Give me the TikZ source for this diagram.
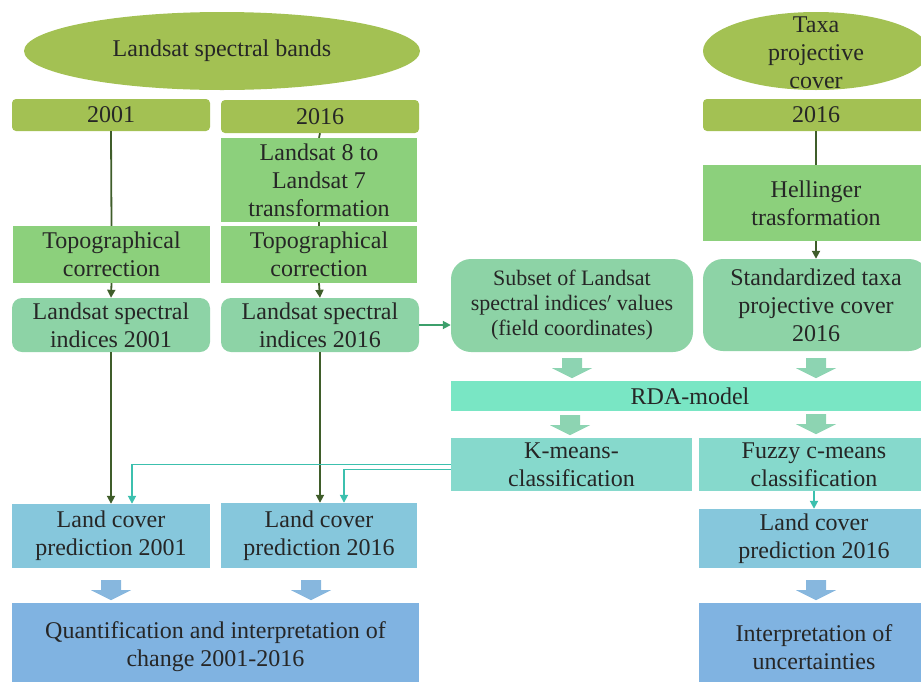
\documentclass[tikz,border=0pt]{standalone}
\usepackage{fontspec}
\setmainfont{Liberation Serif}
\usetikzlibrary{shapes.geometric,arrows.meta}

\definecolor{bandolive}{HTML}{A3C153}
\definecolor{stepgreen}{HTML}{8CD07C}
\definecolor{indexgreen}{HTML}{8DD3A6}
\definecolor{fatgreen}{HTML}{8DD4B2}
\definecolor{rdamint}{HTML}{79E6C4}
\definecolor{classteal}{HTML}{86D9CC}
\definecolor{coverblue}{HTML}{86C7DC}
\definecolor{fatblue}{HTML}{87B7DE}
\definecolor{resultblue}{HTML}{80B3E1}
\definecolor{linedark}{HTML}{3F5D2A}
\definecolor{linecyan}{HTML}{3CC0AE}
\definecolor{linegreen}{HTML}{3C9F6B}
\definecolor{textdark}{HTML}{262626}

% thick downward block arrow below a node: colour, anchor, x offset, gap
\newcommand{\fatarrow}[4]{%
  \fill[#1] ([xshift=#3-10pt,yshift=-#4]#2) -- ++(20,0) -- ++(0,10) -- ++(10,0)
    -- ++(-20,10) -- ++(-20,-10) -- ++(10,0) -- cycle;}

\begin{document}
\begin{tikzpicture}[x=1pt, y=-1pt,
    box/.style={rectangle, inner sep=0pt, align=center, text=textdark,
      font=\fontsize{24}{28}\selectfont},
    bandellipse/.style={ellipse, inner sep=0pt, fill=bandolive,
      minimum height=78pt},
    yearbox/.style={box, fill=bandolive, rounded corners=4pt, minimum height=32pt},
    stepbox/.style={box, fill=stepgreen},
    indexbox/.style={box, fill=indexgreen, rounded corners=10pt},
    classbox/.style={box, fill=classteal, minimum height=53pt},
    coverbox/.style={box, fill=coverblue},
    resultbox/.style={box, fill=resultblue, minimum height=88pt},
    darkline/.style={linedark, line width=1.8pt},
    cyanline/.style={linecyan, line width=1.8pt},
    >={Triangle[length=8pt,width=8pt]}]
    \useasboundingbox (0,0) rectangle (921,681);

    % Sources
    \node[box, bandellipse, minimum width=396pt] (bands) at (222,51)
      {Landsat spectral bands};
    \node[bandellipse, minimum width=226pt] (taxa) at (816,51) {};
    \node[box] (taxatext) at (816,53) {Taxa\\projective\\cover};

    % Years
    \node[yearbox, minimum width=198pt] (y2001) at (111,115) {2001};
    \node[yearbox, minimum width=198pt, minimum height=33pt] (y2016) at (320,116.5) {2016};
    \node[yearbox, minimum width=226pt] (t2016) at (816,115) {2016};

    % Preprocessing
    \node[stepbox, minimum width=196pt, minimum height=84pt] (trans) at (319,180)
      {Landsat 8 to\\Landsat 7\\transformation};
    \node[stepbox, minimum width=197pt, minimum height=57pt] (topo1) at (111.5,254.5)
      {Topographical\\correction};
    \node[stepbox, minimum width=196pt, minimum height=57pt] (topo2) at (319,254.5)
      {Topographical\\correction};
    \node[stepbox, minimum width=226pt, minimum height=76pt] (hell) at (816,203)
      {Hellinger\\trasformation};

    % Indices
    \node[indexbox, minimum width=198pt, minimum height=54pt] (idx1) at (111,325)
      {Landsat spectral\\indices 2001};
    \node[indexbox, minimum width=198pt, minimum height=54pt] (idx2) at (320,325)
      {Landsat spectral\\indices 2016};
    \node[indexbox, rounded corners=20pt, minimum width=242pt, minimum height=93pt,
      font=\fontsize{22}{25}\selectfont] (subset) at (572,305.5)
      {Subset of Landsat\\spectral indices$'$ values\\(field coordinates)};
    \node[indexbox, rounded corners=20pt, minimum width=226pt, minimum height=92pt]
      (stdz) at (816,305) {Standardized taxa\\projective cover\\2016};

    % Model
    \node[box, fill=rdamint, minimum width=478pt, minimum height=30pt] (rda) at (690,396)
      {RDA-model};
    \node[classbox, minimum width=241pt] (kmeans) at (571.5,464.5)
      {K-means-\\classification};
    \node[classbox, minimum width=230pt] (fuzzy) at (814,464.5)
      {Fuzzy c-means\\classification};

    % Predictions
    \node[coverbox, minimum width=198pt, minimum height=64pt] (lc1) at (111,536)
      {Land cover\\prediction 2001};
    \node[coverbox, minimum width=196pt, minimum height=65pt] (lc2) at (319,535.5)
      {Land cover\\prediction 2016};
    \node[coverbox, minimum width=230pt, minimum height=59pt] (lc3) at (814,538.5)
      {Land cover\\prediction 2016};

    % Results
    \node[resultbox, minimum width=407pt] (quant) at (215.5,647)
      {Quantification and interpretation of\\change 2001-2016};
    \node[resultbox, minimum width=230pt] (interp) at (814,647)
      {Interpretation of\\uncertainties};

    % Dark connectors
    \draw[darkline] (y2001.south) -- (topo1.north);
    \draw[darkline] (y2016.south) -- (trans.north);
    \draw[darkline] (trans.south) -- (topo2.north);
    \draw[darkline] (t2016.south) -- (hell.north);
    \draw[darkline, ->] (topo1.south) -- (idx1.north);
    \draw[darkline, ->] (topo2.south) -- (idx2.north);
    \draw[darkline, ->] (hell.south) -- (stdz.north);
    \draw[darkline, ->] (idx1.south) -- (lc1.north);
    \draw[darkline, ->] (idx2.south) -- (idx2.south |- lc2.north);

    % Field subset
    \draw[linegreen, line width=1.8pt, ->] (idx2.east) -- (idx2.east -| subset.west);

    % Classification outputs
    \draw[cyanline, ->] (kmeans.west) -| ([xshift=21pt]lc1.north);
    \draw[cyanline, ->] ([yshift=-5pt]kmeans.west) -| ([xshift=25pt]lc2.north);
    \draw[cyanline, ->] (fuzzy.south) -- (fuzzy.south |- lc3.north);

    % Block arrows
    \fatarrow{fatgreen}{subset.south}{0pt}{6pt}
    \fatarrow{fatgreen}{stdz.south}{0pt}{7pt}
    \fatarrow{fatgreen}{rda.south -| subset.south}{-2pt}{4pt}
    \fatarrow{fatgreen}{rda.south -| stdz.south}{0pt}{3pt}
    \fatarrow{fatblue}{lc1.south}{0pt}{12pt}
    \fatarrow{fatblue}{lc2.south}{-8pt}{12pt}
    \fatarrow{fatblue}{lc3.south}{2pt}{12pt}
\end{tikzpicture}
\end{document}
